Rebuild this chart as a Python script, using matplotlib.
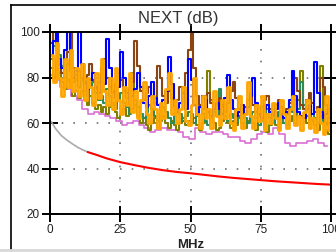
import numpy as np
import matplotlib.pyplot as plt
from matplotlib.lines import Line2D

# frequency sweep, 1 MHz bins
freq = np.arange(100) + 0.5

blue = [90, 96, 100, 88, 84, 92, 100, 85, 80, 83,
        100, 86, 78, 75, 79, 82, 76, 73, 80, 77,
        97, 84, 74, 71, 76, 91, 80, 73, 70, 72,
        75, 82, 76, 69, 67, 72, 78, 71, 68, 66,
        70, 74, 89, 77, 68, 65, 69, 73, 66, 88,
        79, 68, 64, 67, 72, 70, 65, 63, 66, 69,
        66, 64, 71, 81, 70, 66, 63, 65, 68, 64,
        67, 72, 80, 69, 64, 62, 66, 68, 65, 63,
        66, 69, 64, 62, 65, 70, 83, 72, 65, 63,
        62, 66, 68, 64, 87, 73, 65, 62, 64, 66]

brown = [95, 100, 92, 86, 82, 88, 91, 100, 84, 79,
         83, 80, 77, 81, 86, 79, 75, 78, 84, 88,
         80, 76, 73, 77, 82, 79, 74, 71, 75, 78,
         96, 85, 74, 70, 73, 76, 72, 69, 85, 80,
         72, 69, 74, 71, 67, 70, 76, 73, 82, 92,
         100, 84, 72, 68, 66, 70, 73, 69, 66, 68,
         71, 67, 65, 69, 74, 78, 71, 66, 64, 67,
         70, 73, 68, 65, 63, 67, 70, 72, 66, 64,
         68, 70, 67, 64, 66, 69, 73, 80, 74, 68,
         66, 70, 73, 69, 65, 67, 80, 76, 68, 66]

green = [88, 94, 97, 90, 85, 80, 86, 83, 78, 81,
         76, 79, 74, 72, 76, 78, 73, 70, 72, 69,
         75, 72, 68, 66, 70, 73, 69, 67, 64, 66,
         70, 67, 64, 62, 65, 68, 66, 63, 61, 64,
         67, 65, 62, 60, 63, 66, 64, 61, 63, 65,
         62, 60, 63, 67, 64, 61, 59, 62, 65, 63,
         75, 68, 63, 61, 64, 62, 60, 63, 66, 62,
         60, 63, 65, 62, 59, 61, 64, 66, 62, 60,
         62, 65, 63, 60, 64, 67, 65, 70, 66, 78,
         68, 63, 61, 64, 62, 60, 63, 61, 59, 62]

olive = [84, 80, 88, 82, 78, 75, 79, 76, 72, 74,
         71, 74, 70, 68, 72, 69, 66, 68, 65, 67,
         64, 67, 69, 65, 62, 64, 66, 63, 70, 82,
         68, 63, 60, 62, 59, 57, 60, 62, 58, 61,
         63, 60, 58, 61, 59, 57, 60, 62, 59, 61,
         64, 62, 59, 57, 60, 63, 83, 70, 60, 57,
         58, 61, 63, 60, 58, 61, 59, 62, 60, 58,
         61, 63, 60, 57, 59, 62, 58, 56, 59, 61,
         59, 57, 60, 62, 59, 61, 63, 60, 70, 83,
         66, 60, 58, 61, 59, 57, 85, 64, 57, 55]

orange = [90, 78, 95, 80, 72, 88, 76, 92, 74, 84,
          72, 86, 70, 80, 76, 68, 82, 71, 88, 74,
          68, 80, 66, 84, 70, 64, 76, 68, 82, 65,
          74, 62, 70, 78, 64, 60, 72, 66, 58, 69,
          62, 75, 82, 64, 70, 60, 66, 76, 61, 59,
          68, 80, 64, 58, 72, 62, 66, 58, 74, 63,
          59, 70, 62, 76, 60, 57, 66, 72, 58, 64,
          78, 63, 58, 68, 61, 72, 57, 64, 60, 69,
          62, 57, 70, 64, 58, 66, 72, 59, 63, 57,
          65, 70, 58, 62, 56, 66, 60, 55, 72, 57]

# smoother trace, 2 MHz bins
freq2 = np.arange(50) * 2.0 + 0.5
violet = [81, 79, 76, 75, 72, 70, 66, 64, 65, 64,
          63, 62, 61, 59, 60, 61, 59, 58, 56, 57,
          58, 57, 57, 56, 54, 53, 58, 56, 55, 56,
          56, 55, 54, 54, 52, 51, 53, 55, 56, 55,
          58, 55, 51, 50, 51, 51, 52, 53, 51, 50]

# limit line
lim_f_lo = [0.5, 1, 2, 3, 4, 5, 6, 8, 10, 12, 13.5]
lim_lo = [60.5, 59.5, 57.5, 56, 54.5, 53.5, 52.5, 50.8, 49.2, 48, 47.2]
lim_f_hi = [13.5, 17, 20, 25, 30, 35, 40, 45, 50, 55, 60, 65, 70, 75, 80, 85, 90, 95, 100]
lim_hi = [47.2, 45.8, 44.5, 42.8, 41.5, 40.3, 39.3, 38.5, 37.9, 37.2, 36.5, 35.9,
          35.4, 34.9, 34.4, 34.0, 33.6, 33.2, 32.9]

W, H = 336, 252
fig = plt.figure(figsize=(W / 100, H / 100), dpi=100)
fig.patch.set_facecolor('white')

ax = fig.add_axes([50 / W, 1 - 214 / H, 281 / W, 182 / H])
ax.set_xlim(0, 100)
ax.set_ylim(20, 100)

for v in [25, 50, 75]:
    ax.axvline(v, color='#707070', lw=1.2, ls=(0, (1, 6)), zorder=0)
for v in [40, 60, 80]:
    ax.axhline(v, color='#707070', lw=1.2, ls=(0, (1, 6)), zorder=0)

ax.plot(freq2, violet, color='#DA70D6', lw=1.2, drawstyle='steps-mid')
ax.plot(freq, olive, color='#808000', lw=1.5, drawstyle='steps-mid')
ax.plot(freq, green, color='#2E8B57', lw=1.5, drawstyle='steps-mid')
ax.plot(freq, brown, color='#8B4513', lw=1.5, drawstyle='steps-mid')
ax.plot(freq, blue, color='#0000FF', lw=1.5, drawstyle='steps-mid')
ax.plot(freq, orange, color='#FFA500', lw=2.0, drawstyle='steps-mid')
ax.plot(lim_f_lo, lim_lo, color='#AAAAAA', lw=1.2)
ax.plot(lim_f_hi, lim_hi, color='#FF0000', lw=1.5)

ax.set_xticks([0, 25, 50, 75, 100])
ax.set_yticks([20, 40, 60, 80, 100])
ax.tick_params(axis='both', direction='inout', length=12, width=1.4,
               labelsize=8.5, labelcolor='#222222', pad=1.5,
               top=True, right=True)
for s in ax.spines.values():
    s.set_linewidth(1.4)

fig.text(178.5 / W, 1 - 19 / H, 'NEXT (dB)', ha='center', va='center',
         fontsize=12, color='#333333', family='Liberation Sans')
fig.text(191 / W, 1 - 245 / H, 'MHz', ha='center', va='center',
         fontsize=9.5, fontweight='bold', color='#222222', family='Liberation Sans')
for t in ax.get_xticklabels() + ax.get_yticklabels():
    t.set_family('Liberation Sans')

# outer frame
fig.add_artist(Line2D([11 / W, 11 / W], [1 - 250 / H, 1 - 5 / H], color='black', lw=1.2))
fig.add_artist(Line2D([11 / W, 1.0], [1 - 5 / H, 1 - 5 / H], color='black', lw=1.2))
fig.add_artist(Line2D([0, 1.0], [1 - 250 / H, 1 - 250 / H], color='#D8D8D8', lw=2))

fig.savefig('out.png', dpi=100)
